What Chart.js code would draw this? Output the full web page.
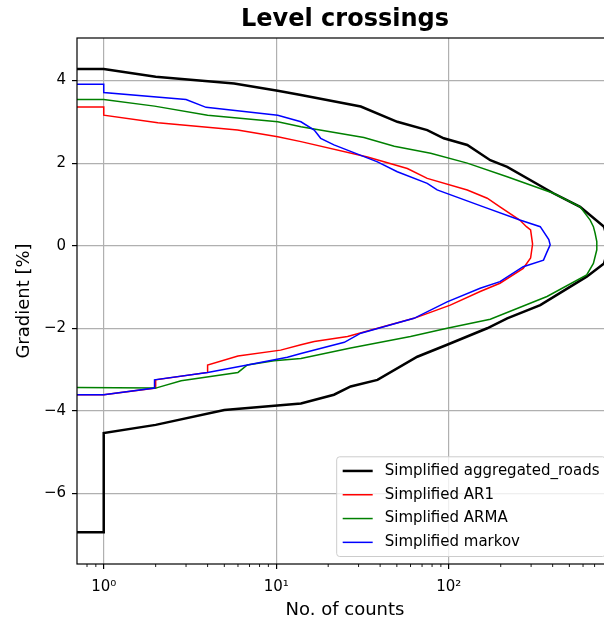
<!DOCTYPE html>
<html>
<head>
<meta charset="utf-8">
<script src="https://cdn.jsdelivr.net/npm/chart.js@4/dist/chart.umd.min.js"></script>
<style>
html, body { margin: 0; padding: 0; background: #fff; overflow: hidden; }
#wrap { width: 620px; height: 621px; }
</style>
</head>
<body>
<div id="wrap"><canvas id="levelChart" width="620" height="621"></canvas></div>
<script>
// level crossing curves: count of crossings (x) at each gradient level (y)
// a count of 0.5 stands for the zero-count end, it sits left of the axis and gets clipped
const roadsCounts = [0.5, 1, 1, 2, 5, 13.9, 21.6, 27, 38.6, 65.7, 97.8, 167, 218, 339, 630, 794, 850, 794, 577, 404, 218, 174, 128, 93.5, 75, 50.3, 30.9, 13.9, 10.2, 5.7, 2, 1, 0.5];
const roadsLevels = [-6.94, -6.94, -4.54, -4.34, -3.98, -3.82, -3.61, -3.41, -3.25, -2.69, -2.40, -2.0, -1.76, -1.44, -0.75, -0.43, 0.0, 0.46, 0.94, 1.27, 1.91, 2.07, 2.44, 2.60, 2.80, 3.0, 3.37, 3.65, 3.75, 3.93, 4.09, 4.28, 4.28];

const ar1Counts = [0.5, 1, 2, 2, 4, 4, 6.0, 10.6, 13.9, 16.6, 25.9, 42.1, 62.8, 102, 152, 198, 270, 298, 306, 298, 282, 258, 198, 167, 128, 75, 57.5, 33.8, 13.9, 10.2, 5.97, 2.06, 1, 1, 0.5];
const ar1Levels = [-3.61, -3.61, -3.45, -3.25, -3.07, -2.89, -2.67, -2.53, -2.40, -2.32, -2.20, -1.96, -1.76, -1.44, -1.11, -0.91, -0.55, -0.30, 0.04, 0.38, 0.46, 0.62, 0.94, 1.15, 1.35, 1.63, 1.87, 2.15, 2.52, 2.64, 2.80, 2.98, 3.16, 3.36, 3.36];

const armaCounts = [0.5, 2, 2.81, 6.0, 6.8, 9.7, 13.9, 27, 60, 97.8, 174, 371, 630, 689, 721, 721, 705, 689, 660, 577, 404, 218, 128, 78.5, 48.3, 32.2, 13.9, 10.2, 4.0, 1.97, 1, 0.5];
const armaLevels = [-3.43, -3.45, -3.27, -3.07, -2.89, -2.79, -2.73, -2.48, -2.20, -2.0, -1.78, -1.23, -0.71, -0.43, -0.1, 0.1, 0.3, 0.46, 0.62, 0.94, 1.27, 1.67, 2.0, 2.24, 2.41, 2.62, 2.88, 3.0, 3.16, 3.38, 3.54, 3.54];

const markovCounts = [0.5, 1, 1.97, 1.97, 4.0, 6.8, 11.6, 13.9, 24.8, 30.9, 62.8, 97.8, 152, 198, 270, 354, 371, 387, 380, 339, 258, 159, 85.6, 75, 50.3, 38.6, 21.6, 18.1, 16.6, 13.9, 10.2, 3.92, 3.0, 1, 1, 0.5];
const markovLevels = [-3.61, -3.61, -3.45, -3.25, -3.07, -2.89, -2.70, -2.61, -2.34, -2.12, -1.76, -1.36, -1.03, -0.87, -0.51, -0.35, -0.15, 0.02, 0.15, 0.46, 0.62, 0.94, 1.35, 1.51, 1.79, 2.03, 2.44, 2.60, 2.80, 3.0, 3.16, 3.35, 3.54, 3.71, 3.91, 3.91];

const seriesNames = ['Simplified aggregated_roads', 'Simplified AR1', 'Simplified ARMA', 'Simplified markov'];

const xTickValues = [1, 10, 100];
const xTickLabels = ['10\u2070', '10\u00b9', '10\u00b2'];
const yTickValues = [-6, -4, -2, 0, 2, 4];
const xLimits = [0.714, 895];
const yLimits = [-7.71, 5.03];

Chart.defaults.font.family = 'DejaVu Sans';
Chart.defaults.color = '#000';

function pts(counts, levels) {
    return counts.map((c, i) => ({ x: c, y: levels[i] }));
}

// minor tick positions (2..9 in every decade inside the axis)
function minorTicks() {
    const out = [];
    [0.1, 1, 10, 100, 1000].forEach(d => {
        for (let m = 2; m <= 9; m++) {
            const v = +(m * d).toPrecision(3);
            if (v >= xLimits[0] && v <= xLimits[1]) out.push(v);
        }
    });
    return out;
}

const framePlugin = {
    id: 'frame',
    afterDatasetsDraw(chart) {
        const { ctx, chartArea: a, scales: { x } } = chart;
        ctx.save();
        // minor ticks
        ctx.strokeStyle = '#000';
        ctx.lineWidth = 0.9;
        ctx.beginPath();
        minorTicks().forEach(v => {
            const px = x.getPixelForValue(v);
            ctx.moveTo(px, a.bottom);
            ctx.lineTo(px, a.bottom + 3);
        });
        ctx.stroke();
        // spines
        ctx.lineWidth = 1.2;
        ctx.strokeRect(a.left, a.top, a.right - a.left, a.bottom - a.top);

        // legend, lower right
        const ds = chart.data.datasets;
        ctx.font = '15px "DejaVu Sans"';
        const pad = 6, handle = 30, gap = 12, rowH = 16.3, space = 7.5;
        const textW = Math.max(...ds.map(d => ctx.measureText(d.label).width));
        const w = pad * 2 + handle + gap + textW;
        const h = pad * 2 + rowH * ds.length + space * (ds.length - 1);
        const right = a.right - 7.5, bottom = a.bottom - 7.5;
        const left = right - w, top = bottom - h;
        ctx.beginPath();
        if (ctx.roundRect) ctx.roundRect(left, top, w, h, 3); else ctx.rect(left, top, w, h);
        ctx.fillStyle = 'rgba(255,255,255,0.8)';
        ctx.fill();
        ctx.strokeStyle = '#cccccc';
        ctx.lineWidth = 1;
        ctx.stroke();
        ds.forEach((d, i) => {
            const y = top + pad + rowH / 2 + i * (rowH + space);
            ctx.beginPath();
            ctx.strokeStyle = d.borderColor;
            ctx.lineWidth = d.borderWidth;
            ctx.moveTo(left + pad, y);
            ctx.lineTo(left + pad + handle, y);
            ctx.stroke();
            ctx.fillStyle = '#000';
            ctx.textBaseline = 'middle';
            ctx.textAlign = 'left';
            ctx.fillText(d.label, left + pad + handle + gap, y);
        });
        ctx.restore();
    }
};

const gridOpts = { color: '#b0b0b0', lineWidth: 1.2, tickLength: 5, tickColor: '#000', tickWidth: 1.2 };

const ctx = document.getElementById('levelChart').getContext('2d');
const levelChart = new Chart(ctx, {
    type: 'line',
    data: {
        datasets: [
            { label: seriesNames[0], data: pts(roadsCounts, roadsLevels), borderColor: '#000000', borderWidth: 2.5, order: 4 },
            { label: seriesNames[1], data: pts(ar1Counts, ar1Levels), borderColor: '#ff0000', borderWidth: 1.5, order: 3 },
            { label: seriesNames[2], data: pts(armaCounts, armaLevels), borderColor: '#008000', borderWidth: 1.5, order: 2 },
            { label: seriesNames[3], data: pts(markovCounts, markovLevels), borderColor: '#0000ff', borderWidth: 1.5, order: 1 }
        ]
    },
    options: {
        responsive: false,
        animation: false,
        clip: 0,
        elements: {
            point: { radius: 0 },
            line: { tension: 0, fill: false }
        },
        layout: { padding: { top: 0, left: 0, right: 7, bottom: 0 } },
        scales: {
            x: {
                type: 'logarithmic',
                min: xLimits[0],
                max: xLimits[1],
                afterBuildTicks: s => { s.ticks = xTickValues.map(v => ({ value: v })); },
                afterFit: s => { s.height = 57; },
                ticks: {
                    callback: v => xTickLabels[xTickValues.indexOf(v)] ?? '',
                    autoSkip: false, maxRotation: 0, padding: 9,
                    font: { size: 15 }, color: '#000'
                },
                grid: gridOpts,
                border: { display: false },
                title: { display: true, text: 'No. of counts', font: { size: 18 }, color: '#000', padding: { top: 0, bottom: 0 } }
            },
            y: {
                type: 'linear',
                min: yLimits[0],
                max: yLimits[1],
                afterBuildTicks: s => { s.ticks = yTickValues.map(v => ({ value: v })); },
                afterFit: s => { s.width = 77; },
                ticks: {
                    callback: v => String(v).replace('-', '\u2212'),
                    padding: 6, font: { size: 15 }, color: '#000'
                },
                grid: gridOpts,
                border: { display: false },
                title: { display: true, text: 'Gradient [%]', font: { size: 18 }, color: '#000', padding: { top: 14, bottom: 0 } }
            }
        },
        plugins: {
            legend: { display: false },
            tooltip: { enabled: false },
            title: {
                display: true,
                text: 'Level crossings',
                fullSize: false,
                font: { size: 24, weight: 'bold' },
                color: '#000',
                padding: { top: 5, bottom: 4.2 }
            }
        }
    },
    plugins: [framePlugin]
});
</script>
</body>
</html>
